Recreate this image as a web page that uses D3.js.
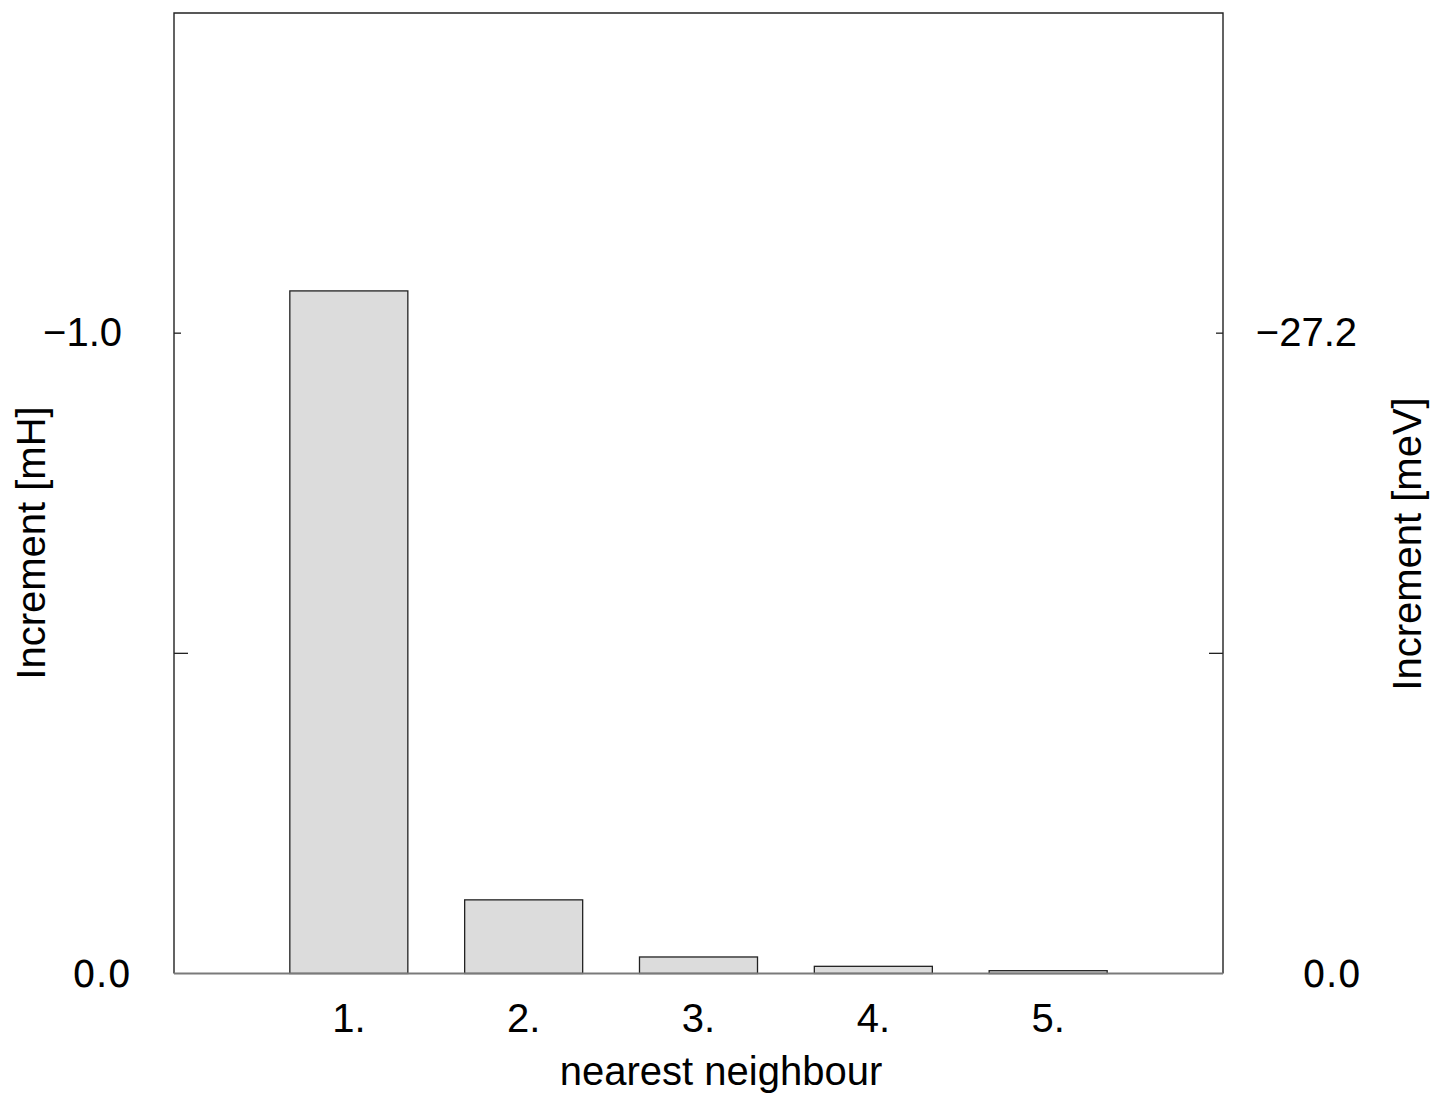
<!DOCTYPE html>
<html>
<head>
<meta charset="utf-8">
<script src="https://cdn.jsdelivr.net/npm/d3@7"></script>
<style>
html,body{margin:0;padding:0;background:#fff;}
svg{display:block;}
</style>
</head>
<body>
<script>
// Data
const categories = ["1.", "2.", "3.", "4.", "5."];
const positions = [1, 2, 3, 4, 5];
const values = [-1.066, -0.115, -0.0258, -0.0112, -0.0044]; // mH
const leftTicks = [0, -0.5, -1.0];
const leftTickLabels = ["0.0", "", "\u22121.0"];
const rightTicks = [0, -13.6, -27.2];
const rightTickLabels = ["0.0", "", "\u221227.2"];

const W = 1433, H = 1110;
const L = 174, R = 1223, T = 13, B = 973.5;

const svg = d3.select("body").append("svg").attr("width", W).attr("height", H);

const x = d3.scaleLinear().domain([0, 6]).range([L, R]);
const y = d3.scaleLinear().domain([0, -1.5]).range([B, T]);
const y2 = d3.scaleLinear().domain([0, -1.5 * 27.2]).range([B, T]);
const barW = x(0.675) - x(0);

// bars
svg.append("g").selectAll("rect").data(values).join("rect")
  .attr("x", (d, i) => x(positions[i]) - barW / 2)
  .attr("y", d => y(d))
  .attr("width", barW)
  .attr("height", d => y(0) - y(d))
  .attr("fill", "#dcdcdc")
  .attr("stroke", "#222")
  .attr("stroke-width", 1.3);

// frame
svg.append("path")
  .attr("d", `M${L},${B}V${T}H${R}V${B}`)
  .attr("fill", "none").attr("stroke", "#222").attr("stroke-width", 1.4);
// baseline
svg.append("line").attr("x1", L).attr("x2", R).attr("y1", y(0)).attr("y2", y(0))
  .attr("stroke", "#7a7a7a").attr("stroke-width", 1.8);

// ticks
const tickLen = (lab) => lab === "" ? 14 : 7;
svg.append("g").selectAll("line").data(leftTicks.filter(d => d !== 0)).join("line")
  .attr("x1", L).attr("x2", (d) => L + tickLen(leftTickLabels[leftTicks.indexOf(d)]))
  .attr("y1", d => y(d)).attr("y2", d => y(d))
  .attr("stroke", "#222").attr("stroke-width", 1.3);
svg.append("g").selectAll("line").data(rightTicks.filter(d => d !== 0)).join("line")
  .attr("x1", R).attr("x2", (d) => R - tickLen(rightTickLabels[rightTicks.indexOf(d)]))
  .attr("y1", d => y2(d)).attr("y2", d => y2(d))
  .attr("stroke", "#222").attr("stroke-width", 1.3);

const fam = "'Liberation Sans', Arial, sans-serif";
const famZero = "'DejaVu Sans', sans-serif";
const fs = 40;

// left tick labels
leftTicks.forEach((t, i) => {
  const lab = leftTickLabels[i];
  if (!lab) return;
  const isZero = t === 0;
  svg.append("text")
    .attr("x", isZero ? 131 : 122)
    .attr("y", y(t) + (isZero ? 13.5 : 12.5))
    .attr("text-anchor", "end")
    .attr("font-family", isZero ? famZero : fam)
    .attr("font-size", isZero ? 37 : fs)
    .attr("fill", "#000")
    .text(lab);
});
// right tick labels
rightTicks.forEach((t, i) => {
  const lab = rightTickLabels[i];
  if (!lab) return;
  const isZero = t === 0;
  svg.append("text")
    .attr("x", isZero ? 1361 : 1357)
    .attr("y", y2(t) + (isZero ? 13.5 : 12.5))
    .attr("text-anchor", "end")
    .attr("font-family", isZero ? famZero : fam)
    .attr("font-size", isZero ? 37 : fs)
    .attr("fill", "#000")
    .text(lab);
});

// x tick labels
svg.append("g").selectAll("text").data(categories).join("text")
  .attr("x", (d, i) => x(positions[i]))
  .attr("y", 1032)
  .attr("text-anchor", "middle")
  .attr("font-family", fam).attr("font-size", fs).attr("fill", "#000")
  .text(d => d);

// axis titles
svg.append("text")
  .attr("x", 721).attr("y", 1085)
  .attr("text-anchor", "middle")
  .attr("font-family", fam).attr("font-size", fs).attr("fill", "#000")
  .text("nearest neighbour");

svg.append("text")
  .attr("transform", "translate(45,543) rotate(-90)")
  .attr("text-anchor", "middle")
  .attr("font-family", fam).attr("font-size", fs).attr("fill", "#000")
  .text("Increment [mH]");

svg.append("text")
  .attr("transform", "translate(1421,544) rotate(-90)")
  .attr("text-anchor", "middle")
  .attr("font-family", fam).attr("font-size", fs).attr("fill", "#000")
  .text("Increment [meV]");
</script>
</body>
</html>
